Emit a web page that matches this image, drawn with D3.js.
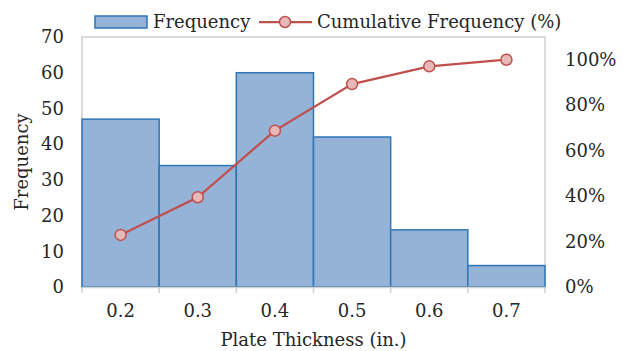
<!DOCTYPE html>
<html><head><meta charset="utf-8">
<script src="https://cdn.jsdelivr.net/npm/d3@7/dist/d3.min.js"></script>
<style>body{margin:0;background:#fff}svg{display:block}text{font-family:"DejaVu Serif",serif;fill:#262626}</style>
</head><body><svg id="c" width="623" height="351"></svg>
<script>
const categories = ["0.2","0.3","0.4","0.5","0.6","0.7"];
const frequency = [47,34,60,42,16,6];
const cumulativePct = [22.9,39.5,68.8,89.3,97.1,100];
const leftTicks = [0,10,20,30,40,50,60,70];
const rightTicks = [0,20,40,60,80,100];

const svg = d3.select("#c");
const m = {l:82, r:545, t:37, b:287};
const fs = 18;
const x = d3.scaleBand().domain(categories).range([m.l, m.r]).padding(0);
const y = d3.scaleLinear().domain([0,70]).range([m.b, m.t]);
const y2 = d3.scaleLinear().domain([0,110]).range([m.b, m.t]);

// plot area border
svg.append("rect").attr("x",m.l).attr("y",m.t).attr("width",m.r-m.l).attr("height",m.b-m.t)
  .attr("fill","none").attr("stroke","#d0d0d0").attr("stroke-width",1.5);

// bars
svg.append("g").selectAll("rect").data(frequency).join("rect")
  .attr("x",(d,i)=>x(categories[i])).attr("width",x.bandwidth())
  .attr("y",d=>y(d)).attr("height",d=>y(0)-y(d))
  .attr("fill","#95b3d7").attr("stroke","#2e75b6").attr("stroke-width",1.5);

// x axis
const xa = svg.append("g").attr("transform",`translate(0,${m.b})`)
  .call(d3.axisBottom(x).tickSize(0).tickPadding(17));
xa.select(".domain").attr("stroke","#d0d0d0").attr("stroke-width",1.5);
xa.selectAll("text").attr("font-size",fs).attr("font-family","DejaVu Serif").attr("fill","#262626");
// boundary ticks
const bounds = categories.map(c=>x(c)).concat([m.r]);
svg.append("g").selectAll("line").data(bounds).join("line")
  .attr("x1",d=>d).attr("x2",d=>d).attr("y1",m.b).attr("y2",m.b+6)
  .attr("stroke","#d0d0d0").attr("stroke-width",1.5);

// left axis
const ya = svg.append("g").attr("transform",`translate(${m.l},0)`)
  .call(d3.axisLeft(y).tickValues(leftTicks).tickSize(0).tickPadding(18));
ya.select(".domain").remove();
ya.selectAll("text").attr("font-size",fs).attr("font-family","DejaVu Serif").attr("fill","#262626");

// right axis
const ra = svg.append("g").attr("transform",`translate(${m.r},0)`)
  .call(d3.axisRight(y2).tickValues(rightTicks).tickSize(0).tickPadding(20).tickFormat(d=>d+"%"));
ra.select(".domain").remove();
ra.selectAll("text").attr("font-size",fs).attr("font-family","DejaVu Serif").attr("fill","#262626");

// line
const cx = i => x(categories[i]) + x.bandwidth()/2;
svg.append("path").datum(cumulativePct)
  .attr("d", d3.line().x((d,i)=>cx(i)).y(d=>y2(d)))
  .attr("fill","none").attr("stroke","#c0504d").attr("stroke-width",2.25);
svg.append("g").selectAll("circle").data(cumulativePct).join("circle")
  .attr("cx",(d,i)=>cx(i)).attr("cy",d=>y2(d)).attr("r",5.5)
  .attr("fill","#e6b9b8").attr("stroke","#c0504d").attr("stroke-width",1.5);

// axis titles
svg.append("text").attr("x",(m.l+m.r)/2).attr("y",346).attr("text-anchor","middle")
  .attr("font-size",fs).text("Plate Thickness (in.)");
svg.append("text").attr("transform",`translate(28,${(m.t+m.b)/2}) rotate(-90)`).attr("text-anchor","middle")
  .attr("font-size",fs).text("Frequency");

// legend
const lg = svg.append("g");
lg.append("rect").attr("x",95).attr("y",16).attr("width",52).attr("height",12)
  .attr("fill","#95b3d7").attr("stroke","#2e75b6").attr("stroke-width",1.5);
lg.append("text").attr("x",153).attr("y",28).attr("font-size",fs).text("Frequency");
lg.append("line").attr("x1",259).attr("x2",312).attr("y1",22).attr("y2",22)
  .attr("stroke","#c0504d").attr("stroke-width",2.25);
lg.append("circle").attr("cx",285).attr("cy",22).attr("r",5.5)
  .attr("fill","#e6b9b8").attr("stroke","#c0504d").attr("stroke-width",1.5);
lg.append("text").attr("x",317).attr("y",28).attr("font-size",fs).text("Cumulative Frequency (%)");
</script></body></html>
